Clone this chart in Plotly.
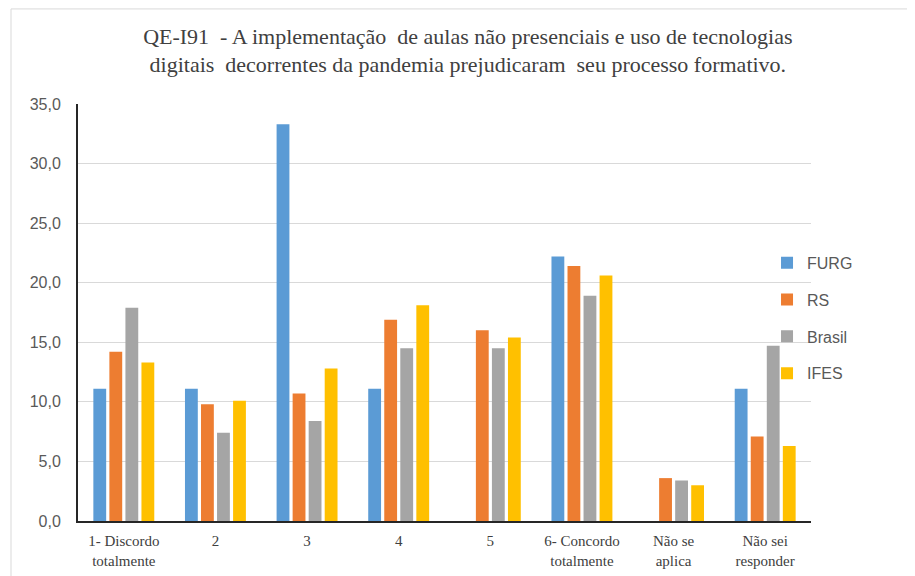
import plotly.graph_objects as go

categories = ["1- Discordo<br>totalmente", "2", "3", "4", "5", "6- Concordo<br>totalmente", "Não se<br>aplica", "Não sei<br>responder"]
furg = [11.1, 11.1, 33.3, 11.1, 0.0, 22.2, 0.0, 11.1]
rs = [14.2, 9.8, 10.7, 16.9, 16.0, 21.4, 3.6, 7.1]
brasil = [17.9, 7.4, 8.4, 14.5, 14.5, 18.9, 3.4, 14.7]
ifes = [13.3, 10.1, 12.8, 18.1, 15.4, 20.6, 3.0, 6.3]
series_names = ["FURG", "RS", "Brasil", "IFES"]
colors = ["#5B9BD5", "#ED7D31", "#A5A5A5", "#FFC000"]
y_ticks = [0, 5, 10, 15, 20, 25, 30, 35]
y_tick_text = ["0,0", "5,0", "10,0", "15,0", "20,0", "25,0", "30,0", "35,0"]
title_text = ("QE-I91  - A implementação  de aulas não presenciais e uso de tecnologias<br>"
              "digitais  decorrentes da pandemia prejudicaram  seu processo formativo.")

fig = go.Figure()
for i, (name, vals) in enumerate(zip(series_names, [furg, rs, brasil, ifes])):
    fig.add_trace(go.Bar(x=categories, y=vals, name=name, marker_color=colors[i],
                         marker_line_width=0, legendgroup=name))

fig.update_layout(
    width=907, height=568,
    margin=dict(l=70, r=104, t=96, b=55, autoexpand=False),
    paper_bgcolor="white", plot_bgcolor="white",
    barmode="group", bargap=0.3, bargroupgap=0.2,
    title=dict(text=title_text, x=0.507, xanchor="center", xref="container",
               y=0.937, yanchor="middle", yref="container",
               font=dict(family="Liberation Serif, Times New Roman, serif", size=22, color="#404040")),
    legend=dict(x=0.94, xanchor="left", y=0.486, yanchor="middle", traceorder="grouped",
                tracegroupgap=13, bgcolor="rgba(0,0,0,0)",
                font=dict(family="Liberation Sans, Arial, sans-serif", size=16, color="#595959"),
                itemwidth=30),
    xaxis=dict(showgrid=False, showline=True, linecolor="#262626", linewidth=2,
               tickfont=dict(family="Liberation Serif, Times New Roman, serif", size=15, color="#404040"),
               ticks="", ticklabelstandoff=5, automargin=False, fixedrange=True),
    yaxis=dict(range=[0, 35], tickvals=y_ticks, ticktext=y_tick_text,
               showgrid=True, gridcolor="#D9D9D9", gridwidth=1,
               showline=True, linecolor="#262626", linewidth=2, zeroline=False,
               tickfont=dict(family="Liberation Sans, Arial, sans-serif", size=16, color="#595959"),
               ticks="", ticklen=0, ticklabelstandoff=12, automargin=False, fixedrange=True),
    shapes=[dict(type="rect", xref="paper", yref="paper", x0=-0.0914, y0=-0.3, x1=1.3, y1=1.228,
                 line=dict(color="#D9D9D9", width=1), fillcolor="rgba(0,0,0,0)", layer="below")],
)
fig.write_html("out.html")
